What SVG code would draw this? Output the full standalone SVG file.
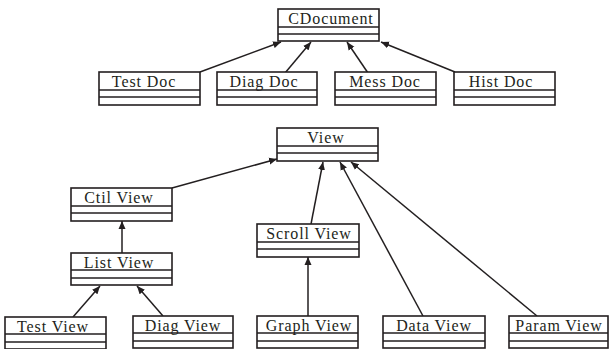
<svg xmlns="http://www.w3.org/2000/svg" width="611" height="349" viewBox="0 0 611 349">
<style>
.box{fill:#fff;stroke:#231f20;stroke-width:1.6}
.sep{stroke:#231f20;stroke-width:1.4;fill:none}
.lbl{font-family:"Liberation Serif","Times New Roman",serif;font-size:16px;letter-spacing:0.9px;fill:#231f20;text-anchor:middle}
.edge{stroke:#231f20;stroke-width:1.5;fill:none;marker-end:url(#arr)}
</style>
<defs>
<marker id="arr" markerUnits="userSpaceOnUse" markerWidth="9" markerHeight="8" refX="8" refY="4" orient="auto">
<path d="M0,0.5 L8,4 L0,7.5 Z" fill="#231f20"/>
</marker>
</defs>
<rect width="611" height="349" fill="#fff"/>
<g id="connectors">
<line class="edge" x1="200" y1="72" x2="281" y2="42"/>
<line class="edge" x1="285" y1="73" x2="311" y2="42"/>
<line class="edge" x1="368" y1="73" x2="347" y2="42"/>
<line class="edge" x1="455" y1="72" x2="381" y2="42"/>
<line class="edge" x1="172" y1="188" x2="277" y2="159"/>
<line class="edge" x1="311" y1="224" x2="323" y2="162"/>
<line class="edge" x1="423" y1="316" x2="340" y2="162"/>
<line class="edge" x1="537" y1="316" x2="351" y2="162"/>
<line class="edge" x1="122" y1="253" x2="122" y2="221"/>
<line class="edge" x1="308" y1="316" x2="308" y2="257"/>
<line class="edge" x1="73" y1="317" x2="100" y2="286"/>
<line class="edge" x1="163" y1="316" x2="137" y2="286"/>
</g>
<g id="cdocument">
<rect class="box" x="278" y="9" width="101" height="32"/>
<path class="sep" d="M278,27H379M278,34H379"/>
<text class="lbl" x="331" y="24">CDocument</text>
</g>
<g id="testdoc">
<rect class="box" x="99" y="72" width="101" height="33"/>
<path class="sep" d="M99,90H200M99,97H200"/>
<text class="lbl" x="144" y="87">Test Doc</text>
</g>
<g id="diagdoc">
<rect class="box" x="217" y="72" width="100" height="33"/>
<path class="sep" d="M217,90H317M217,97H317"/>
<text class="lbl" x="264" y="87">Diag Doc</text>
</g>
<g id="messdoc">
<rect class="box" x="335" y="72" width="101" height="33"/>
<path class="sep" d="M335,90H436M335,97H436"/>
<text class="lbl" x="385" y="87">Mess Doc</text>
</g>
<g id="histdoc">
<rect class="box" x="454" y="72" width="101" height="33"/>
<path class="sep" d="M454,90H555M454,97H555"/>
<text class="lbl" x="501" y="87">Hist Doc</text>
</g>
<g id="view">
<rect class="box" x="277" y="128" width="101" height="33"/>
<path class="sep" d="M277,146H378M277,153H378"/>
<text class="lbl" x="326" y="143">View</text>
</g>
<g id="ctilview">
<rect class="box" x="71" y="188" width="101" height="33"/>
<path class="sep" d="M71,206H172M71,213H172"/>
<text class="lbl" x="119" y="203">Ctil View</text>
</g>
<g id="scrollview">
<rect class="box" x="257" y="224" width="102" height="33"/>
<path class="sep" d="M257,242H359M257,249H359"/>
<text class="lbl" x="309" y="239">Scroll View</text>
</g>
<g id="listview">
<rect class="box" x="71" y="253" width="101" height="32"/>
<path class="sep" d="M71,270H172M71,278H172"/>
<text class="lbl" x="119" y="268">List View</text>
</g>
<g id="testview">
<rect class="box" x="5" y="317" width="101" height="32"/>
<path class="sep" d="M5,334H106M5,342H106"/>
<text class="lbl" x="53" y="332">Test View</text>
</g>
<g id="diagview">
<rect class="box" x="133" y="316" width="100" height="32"/>
<path class="sep" d="M133,333H233M133,341H233"/>
<text class="lbl" x="183" y="331">Diag View</text>
</g>
<g id="graphview">
<rect class="box" x="257" y="316" width="101" height="32"/>
<path class="sep" d="M257,333H358M257,341H358"/>
<text class="lbl" x="309" y="331">Graph View</text>
</g>
<g id="dataview">
<rect class="box" x="383" y="316" width="102" height="32"/>
<path class="sep" d="M383,333H485M383,341H485"/>
<text class="lbl" x="434" y="331">Data View</text>
</g>
<g id="paramview">
<rect class="box" x="509" y="316" width="99" height="32"/>
<path class="sep" d="M509,333H608M509,341H608"/>
<text class="lbl" x="559" y="331">Param View</text>
</g>
</svg>
